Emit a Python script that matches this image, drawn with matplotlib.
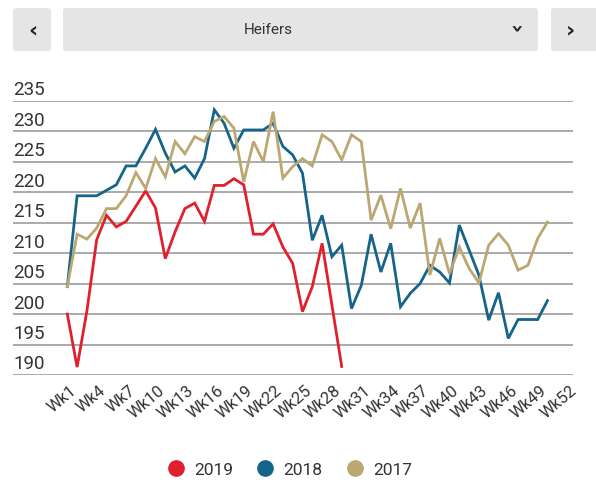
import matplotlib
matplotlib.use("Agg")
import matplotlib.pyplot as plt
import matplotlib.transforms as mtransforms
from matplotlib.patches import FancyBboxPatch
from matplotlib.lines import Line2D
import numpy as np

plt.rcParams['font.family'] = ['Roboto', 'DejaVu Sans']

# Weekly heifer prices
weeks = [f"Wk{i}" for i in range(1, 53)]
tick_weeks = ["Wk1", "Wk4", "Wk7", "Wk10", "Wk13", "Wk16", "Wk19", "Wk22", "Wk25",
              "Wk28", "Wk31", "Wk34", "Wk37", "Wk40", "Wk43", "Wk46", "Wk49", "Wk52"]

prices_2019 = [200.0, 191.3, 200.5, 212.2, 216.2, 214.3, 215.2, 217.7, 220.2, 217.4,
               209.1, 213.5, 217.3, 218.2, 215.2, 221.1, 221.1, 222.2, 221.2, 213.1,
               213.1, 214.8, 211.0, 208.3, 200.4, 204.5, 211.6, 201.5, 191.4]

prices_2018 = [204.5, 219.4, 219.4, 219.4, 220.3, 221.2, 224.3, 224.3, 227.2, 230.3,
               226.4, 223.3, 224.3, 222.3, 225.5, 233.5, 231.3, 227.2, 230.2, 230.2,
               230.2, 231.3, 227.5, 226.1, 223.1, 212.1, 216.2, 209.4, 211.3, 200.9,
               204.7, 213.1, 206.9, 211.6, 201.2, 203.4, 205.0, 208.0, 206.9, 205.1,
               214.6, 210.5, 206.4, 199.0, 203.5, 196.0, 199.1, 199.1, 199.1, 202.2]

prices_2017 = [204.5, 213.1, 212.3, 214.1, 217.3, 217.3, 219.4, 223.2, 220.6, 225.5,
               222.5, 228.3, 226.3, 229.1, 228.3, 231.6, 232.4, 230.5, 221.7, 228.3,
               225.0, 233.2, 222.3, 224.2, 225.5, 224.3, 229.4, 228.3, 225.3, 229.4,
               228.3, 215.4, 219.5, 214.0, 220.6, 214.1, 218.2, 206.4, 212.4, 206.6,
               211.0, 207.5, 205.1, 211.3, 213.2, 211.3, 207.2, 208.0, 212.4, 215.1]

series = [("2019", prices_2019, "#e0202e"),
          ("2018", prices_2018, "#15648a"),
          ("2017", prices_2017, "#bba772")]

y_ticks = [190, 195, 200, 205, 210, 215, 220, 225, 230, 235]

W, H = 596, 487
fig = plt.figure(figsize=(W / 100, H / 100), dpi=100)

def fx(px):
    return px / W

def fy(py):
    return 1 - py / H

# Selector bar at the top
bar_color = "#e5e5e5"
for x0, x1 in [(13, 51), (63, 538), (551, 600)]:
    fig.patches.append(FancyBboxPatch((fx(x0), fy(51)), fx(x1 - x0), (51 - 8) / H,
                                      boxstyle="round,pad=0,rounding_size=0.006",
                                      transform=fig.transFigure, facecolor=bar_color,
                                      edgecolor="none", zorder=0))
fig.text(fx(268), fy(30), "Heifers", ha="center", va="center", fontsize=11, color="#333333")
fig.text(fx(33), fy(30), "‹", ha="center", va="center", fontsize=16, color="#222222",
         family="DejaVu Sans", fontweight="bold")
fig.text(fx(570), fy(30), "›", ha="center", va="center", fontsize=16, color="#222222",
         family="DejaVu Sans", fontweight="bold")
fig.text(fx(514), fy(30), "›", ha="center", va="center", fontsize=16, color="#222222",
         family="DejaVu Sans", fontweight="bold", rotation=-90)

# Chart area
left, right, top, bottom = 13, 573, 100.7, 375
ax = fig.add_axes([fx(left), fy(bottom), fx(right - left), (bottom - top) / H])
for sp in ax.spines.values():
    sp.set_visible(False)
ax.set_facecolor("none")

ax.set_ylim(190, 235)
spacing = 9.8
ax.set_xlim(1 - (67.3 - left) / spacing, 1 + (right - 67.3) / spacing)
ax.set_yticks(y_ticks)
ax.set_yticklabels([])
ax.tick_params(axis="both", length=0)
ax.grid(axis="y", color="#9c9c9c", linewidth=1.2)
ax.set_axisbelow(True)

# y labels sit just above their grid lines
ylab_tr = mtransforms.blended_transform_factory(ax.transAxes, ax.transData) + \
    mtransforms.ScaledTranslation(0, 5.5 / 100, fig.dpi_scale_trans)
for v in y_ticks:
    ax.text(0, v, str(v), transform=ylab_tr, ha="left", va="baseline",
            fontsize=13.5, color="#333333")

# x labels: every third week, rotated
ax.set_xticks([])
tick_pos = [weeks.index(w) + 1 for w in tick_weeks]
xlab_tr = mtransforms.blended_transform_factory(ax.transData, ax.transAxes) + \
    mtransforms.ScaledTranslation(7 / 100, -14 / 100, fig.dpi_scale_trans)
for p, lab in zip(tick_pos, tick_weeks):
    ax.text(p, 0, lab, transform=xlab_tr, rotation=40, rotation_mode="anchor",
            ha="right", va="center", fontsize=12, color="#333333")

for name, vals, col in series:
    xs = np.arange(1, len(vals) + 1)
    ax.plot(xs, vals, color=col, linewidth=2.0, solid_joinstyle="miter", zorder=3)

handles = [Line2D([], [], linestyle="none", marker="o", markersize=11,
                  markerfacecolor=col, markeredgecolor=col, label=name)
           for name, vals, col in series]
fig.legend(handles=handles, loc="center", bbox_to_anchor=(fx(288), fy(470)), ncol=3,
           frameon=False, fontsize=12.5, handletextpad=0.35, columnspacing=1.15,
           handlelength=1.4, labelcolor="#333333")

fig.savefig("out.png", dpi=100)
